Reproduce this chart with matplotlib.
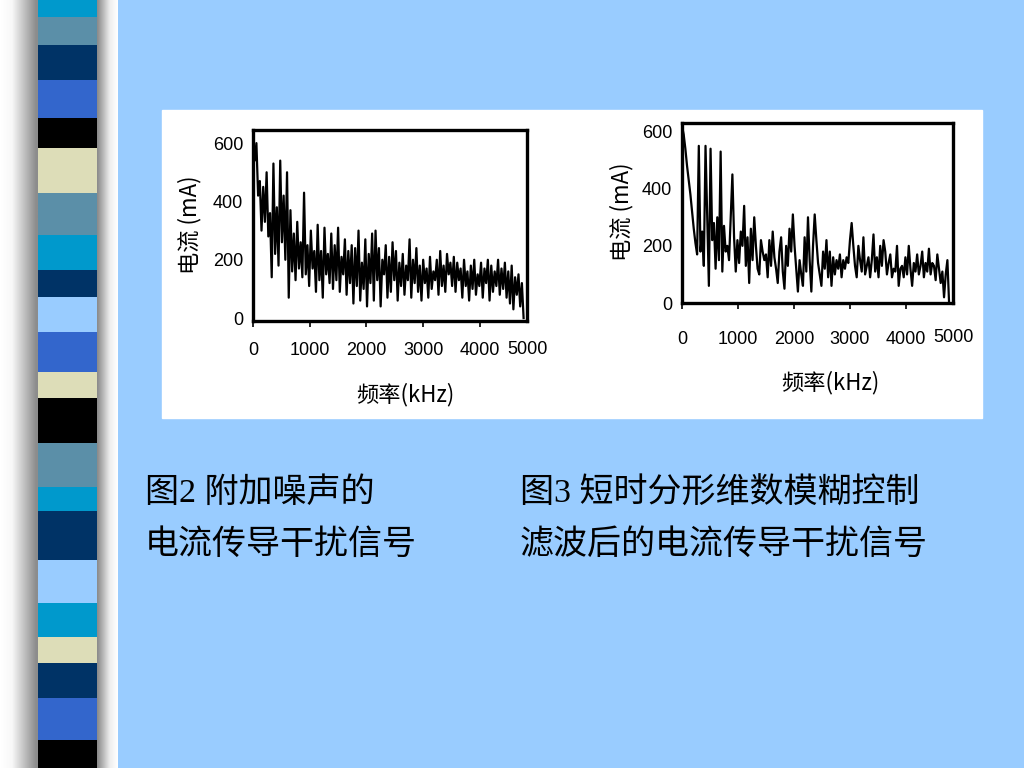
import numpy as np
import matplotlib.pyplot as plt
from matplotlib.patches import Rectangle

# ---- data (step 30 kHz) ----
freq_step = 30
noisy_ma = [
    580, 540, 600, 420, 470, 300, 450, 330, 500, 280,
    360, 140, 530, 220, 380, 180, 540, 260, 420, 200,
    500, 70, 370, 160, 290, 130, 330, 170, 260, 140,
    430, 150, 250, 110, 300, 170, 230, 90, 320, 130,
    230, 70, 310, 150, 220, 120, 290, 100, 250, 130,
    310, 90, 210, 150, 270, 80, 230, 120, 250, 50,
    240, 110, 300, 60, 190, 100, 270, 40, 220, 120,
    290, 60, 300, 130, 240, 40, 200, 150, 250, 70,
    210, 90, 260, 130, 230, 60, 190, 110, 220, 80,
    180, 130, 270, 70, 200, 120, 240, 90, 180, 60,
    200, 120, 170, 70, 210, 100, 160, 130, 200, 80,
    230, 110, 180, 90, 220, 150, 190, 110, 210, 90,
    190, 130, 170, 70, 200, 110, 160, 60, 180, 100,
    200, 80, 150, 110, 190, 70, 170, 120, 200, 60,
    180, 90, 160, 110, 200, 80, 170, 100, 190, 70,
    160, 50, 180, 30, 140, 80, 150, 40, 120, 0,
]
filtered_ma = [
    620, 590, 540, 480, 430, 380, 320, 260, 210, 170,
    550, 180, 250, 130, 550, 300, 60, 540, 220, 280,
    120, 300, 150, 530, 110, 270, 180, 200, 150, 300,
    450, 230, 110, 220, 140, 250, 200, 340, 130, 230,
    70, 260, 150, 300, 200, 120, 100, 220, 180, 150,
    170, 90, 220, 130, 250, 160, 120, 70, 180, 230,
    110, 50, 200, 130, 260, 180, 310, 200, 120, 40,
    150, 100, 60, 230, 110, 300, 150, 40, 200, 310,
    220, 140, 100, 60, 180, 120, 220, 90, 180, 60,
    160, 100, 150, 120, 170, 90, 150, 120, 160, 140,
    220, 280, 200, 130, 90, 200, 150, 110, 230, 100,
    130, 160, 90, 150, 240, 110, 160, 90, 200, 130,
    220, 180, 100, 140, 170, 90, 120, 110, 200, 60,
    120, 130, 90, 160, 100, 200, 120, 60, 140, 110,
    170, 100, 130, 180, 90, 140, 110, 190, 100, 140,
    130, 80, 170, 120, 70, 110, 20, 100, 150, 0,
]
x_ticks = [0, 1000, 2000, 3000, 4000]
x_tick_labels = ['0', '1000', '2000', '3000', '4000']
y_ticks = [0, 200, 400, 600]

caption_left = ['图2 附加噪声的', '电流传导干扰信号']
caption_right = ['图3 短时分形维数模糊控制', '滤波后的电流传导干扰信号']

# decorative stripe bands (top y, bottom y in pixels, colour)
band_edges = [0, 17, 45, 80, 118, 148, 193, 235, 270, 297, 332, 372, 398,
              443, 487, 511, 560, 603, 637, 663, 698, 740, 768]
band_colors = ['#0099cc', '#5b8fa8', '#003366', '#3366cc', '#000000', '#ddddb8',
               '#5b8fa8', '#0099cc', '#003366', '#99ccff', '#3366cc', '#ddddb8',
               '#000000', '#5b8fa8', '#0099cc', '#003366', '#99ccff', '#0099cc',
               '#ddddb8', '#003366', '#3366cc', '#000000']

W, H = 1024, 768
fig = plt.figure(figsize=(W / 100, H / 100), dpi=100)
fig.patch.set_facecolor('#99ccff')

def px(x0, y0, x1, y1):
    return [x0 / W, 1 - y1 / H, (x1 - x0) / W, (y1 - y0) / H]

# left decorative stripe with grey shading
side = fig.add_axes(px(0, 0, 118, 768))
side.set_xlim(0, 118)
side.set_ylim(768, 0)
side.axis('off')
xs = np.linspace(0, 118, 236)
shade = np.interp(xs, [0, 12, 36, 98, 110, 118], [1.0, 0.97, 0.55, 0.55, 0.93, 1.0])
side.imshow(np.tile(shade, (2, 1)), cmap='gray', vmin=0, vmax=1, aspect='auto',
            extent=[0, 118, 768, 0])
for i, c in enumerate(band_colors):
    side.add_patch(Rectangle((38, band_edges[i]), 59, band_edges[i + 1] - band_edges[i],
                             color=c, lw=0))

# white panel behind the charts
fig.patches.append(Rectangle((162 / W, 1 - 418 / H), 820 / W, 308 / H,
                             transform=fig.transFigure, color='white', zorder=-1))

tick_font = ['Liberation Sans', 'DejaVu Sans']
cjk_font = ['Noto Sans CJK SC', 'DejaVu Sans']


def draw_panel(rect, values, xmax, ylim, pad_x, ylab_pos, xlab_pos, five_y):
    ax = fig.add_axes(rect)
    freqs = np.arange(len(values)) * freq_step
    ax.plot(freqs, values, color='black', lw=1.6)
    ax.set_xlim(0, xmax)
    ax.set_ylim(*ylim)
    ax.set_xticks(x_ticks)
    ax.set_xticklabels(x_tick_labels)
    ax.set_yticks(y_ticks)
    for s in ax.spines.values():
        s.set_linewidth(2.4)
    ax.tick_params(axis='x', length=4, width=1.2, pad=pad_x, labelsize=13)
    ax.tick_params(axis='y', length=0, pad=7, labelsize=13)
    for lab in ax.get_xticklabels() + ax.get_yticklabels():
        lab.set_family(tick_font)
    ax.text(1.0, five_y, '5000', transform=ax.transAxes, ha='center', va='center',
            fontsize=13, family=tick_font)
    fig.text(ylab_pos[0] / W, 1 - ylab_pos[1] / H, '电流 (mA)', rotation=90,
             ha='center', va='center', fontsize=16, family=cjk_font)
    fig.text(xlab_pos[0] / W, 1 - xlab_pos[1] / H, '频率(kHz)',
             ha='center', va='center', fontsize=16, family=cjk_font)
    return ax


draw_panel(px(253, 130, 527, 321), noisy_ma, 4830, (-10, 645), 11,
           (190, 225), (405, 395), -0.15)
draw_panel(px(682, 123, 953, 303), filtered_ma, 4840, (0, 630), 16,
           (622, 212), (830, 383), -0.19)

# captions
cap_font = ['Liberation Serif', 'Noto Sans CJK SC']
for i, line in enumerate(caption_left):
    fig.text(145 / W, 1 - (493 + 52 * i) / H, line, ha='left', va='center',
             fontsize=24.5, family=cap_font)
for i, line in enumerate(caption_right):
    fig.text(520 / W, 1 - (493 + 52 * i) / H, line, ha='left', va='center',
             fontsize=24.5, family=cap_font)

fig.savefig('out.png', dpi=100, facecolor=fig.get_facecolor())
